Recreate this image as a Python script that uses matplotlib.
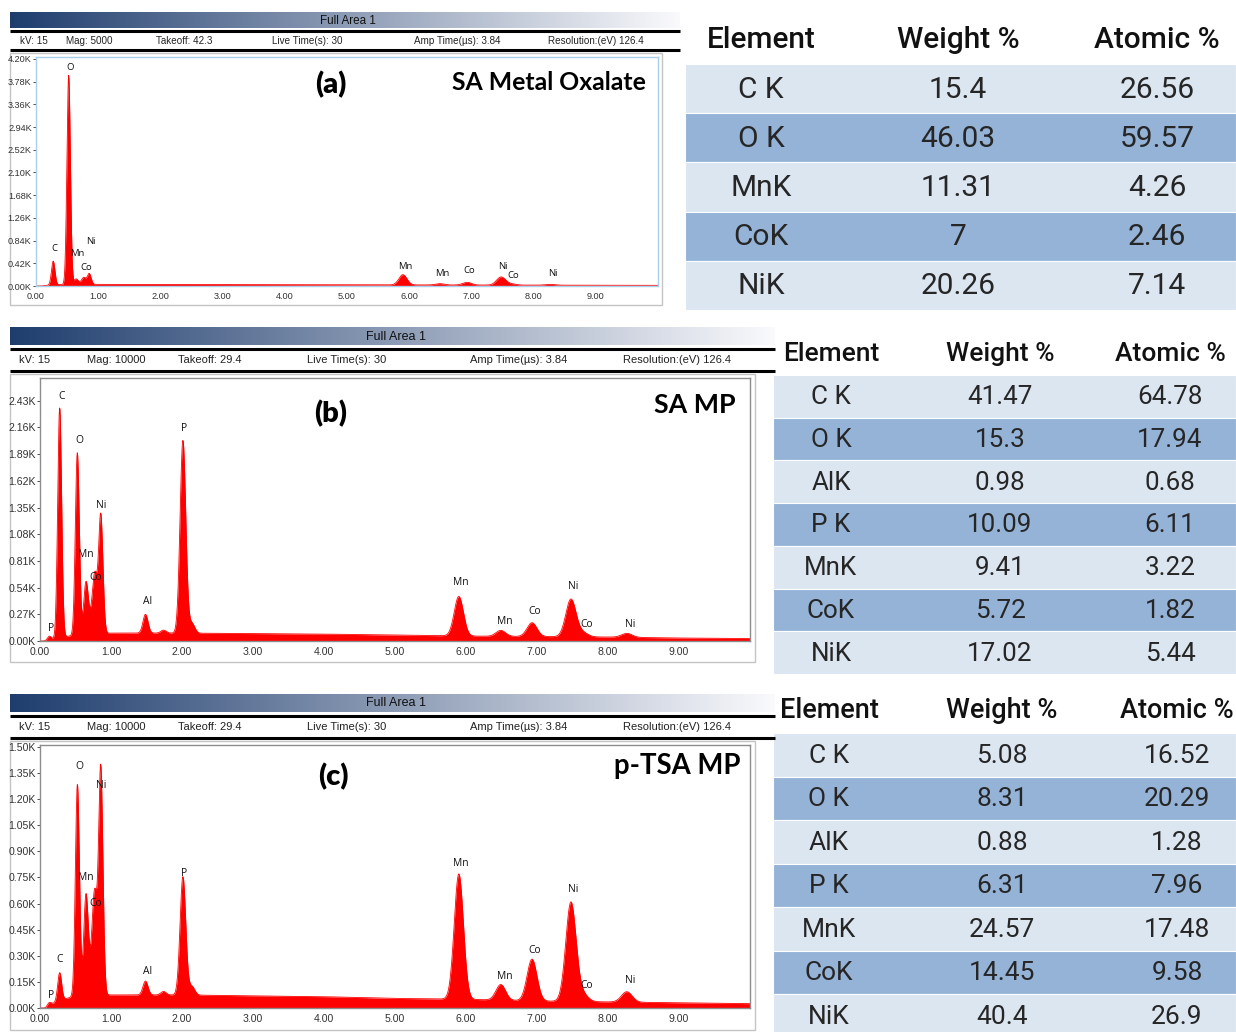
import numpy as np
import matplotlib
matplotlib.use("Agg")
import matplotlib.pyplot as plt
from matplotlib.patches import Rectangle

W, H = 1236, 1032

# ---------------------------------------------------------------- data
# X-ray line energies (keV)
LINE_KEV = {
    "P L": 0.13, "C Ka": 0.277, "O Ka": 0.525, "Mn Ll": 0.556, "Mn La": 0.637,
    "Mn Lb": 0.649, "Co Ll": 0.678, "Ni Ll": 0.743, "Co La": 0.776, "Co Lb": 0.791,
    "Ni La": 0.851, "Ni Lb": 0.869, "Al Ka": 1.486, "Si Ka": 1.74, "P Ka": 2.013,
    "P Kb": 2.139, "Mn Ka": 5.899, "Mn Kb": 6.490, "Co Ka": 6.930, "Ni Ka": 7.478,
    "Co Kb": 7.649, "Ni Kb": 8.265,
}

# net peak heights (kcounts) per spectrum
peaks_a = {"C Ka": 0.44, "O Ka": 3.85, "Mn Ll": 0.03, "Mn La": 0.06, "Mn Lb": 0.03,
           "Co Ll": 0.03, "Ni Ll": 0.06, "Co La": 0.07, "Co Lb": 0.03, "Ni La": 0.15,
           "Ni Lb": 0.06, "Mn Ka": 0.19, "Mn Kb": 0.025, "Co Ka": 0.05, "Ni Ka": 0.15,
           "Co Kb": 0.02, "Ni Kb": 0.015}
peaks_b = {"P L": 0.04, "C Ka": 2.33, "O Ka": 1.80, "Mn Ll": 0.08, "Mn La": 0.30,
           "Mn Lb": 0.15, "Co Ll": 0.20, "Ni Ll": 0.25, "Co La": 0.35, "Co Lb": 0.15,
           "Ni La": 0.90, "Ni Lb": 0.35, "Al Ka": 0.19, "Si Ka": 0.03, "P Ka": 1.95,
           "P Kb": 0.10, "Mn Ka": 0.40, "Mn Kb": 0.06, "Co Ka": 0.14, "Ni Ka": 0.38,
           "Co Kb": 0.04, "Ni Kb": 0.04}
peaks_c = {"P L": 0.02, "C Ka": 0.16, "O Ka": 1.15, "Mn Ll": 0.12, "Mn La": 0.32,
           "Mn Lb": 0.18, "Co Ll": 0.20, "Ni Ll": 0.28, "Co La": 0.32, "Co Lb": 0.14,
           "Ni La": 1.00, "Ni Lb": 0.36, "Al Ka": 0.08, "Si Ka": 0.02, "P Ka": 0.68,
           "P Kb": 0.05, "Mn Ka": 0.72, "Mn Kb": 0.09, "Co Ka": 0.24, "Ni Ka": 0.57,
           "Co Kb": 0.04, "Ni Kb": 0.06}

# continuum level (kcounts) at selected energies
bg_kev = [0.0, 0.08, 0.25, 0.5, 1.0, 2.0, 3.0, 4.0, 5.0, 6.0, 7.0, 8.0, 9.0, 10.0]
bg_a = [0.0, 0.0, 0.02, 0.03, 0.03, 0.03, 0.027, 0.025, 0.022, 0.02, 0.018, 0.016, 0.014, 0.012]
bg_b = [0.0, 0.0, 0.03, 0.06, 0.08, 0.08, 0.075, 0.07, 0.06, 0.05, 0.045, 0.04, 0.03, 0.025]
bg_c = [0.0, 0.0, 0.04, 0.07, 0.075, 0.075, 0.07, 0.065, 0.055, 0.05, 0.04, 0.035, 0.03, 0.025]

# peak annotations: (text, keV, kcounts)
labels_a = [("O", 0.55, 4.05), ("C", 0.30, 0.70), ("Mn", 0.66, 0.61), ("Ni", 0.88, 0.83),
            ("Co", 0.80, 0.35), ("Mn", 5.93, 0.37), ("Mn", 6.53, 0.24), ("Co", 6.96, 0.28),
            ("Ni", 7.51, 0.37), ("Co", 7.68, 0.20), ("Ni", 8.31, 0.24)]
labels_b = [("C", 0.30, 2.47), ("O", 0.55, 2.03), ("P", 2.03, 2.15), ("Ni", 0.86, 1.37),
            ("Mn", 0.65, 0.87), ("Co", 0.79, 0.64), ("Al", 1.52, 0.40), ("P", 0.15, 0.13),
            ("Mn", 5.93, 0.59), ("Mn", 6.54, 0.20), ("Co", 6.97, 0.30), ("Ni", 7.51, 0.55),
            ("Co", 7.70, 0.17), ("Ni", 8.31, 0.17)]
labels_c = [("O", 0.55, 1.39), ("Ni", 0.86, 1.28), ("Mn", 0.65, 0.75), ("Co", 0.79, 0.60),
            ("P", 2.03, 0.77), ("C", 0.28, 0.28), ("Al", 1.51, 0.21), ("P", 0.15, 0.07),
            ("Mn", 5.93, 0.83), ("Ni", 7.51, 0.68), ("Co", 6.97, 0.33), ("Mn", 6.54, 0.18),
            ("Co", 7.70, 0.13), ("Ni", 8.31, 0.16)]

yticks_a = [0.00, 0.42, 0.84, 1.26, 1.68, 2.10, 2.52, 2.94, 3.36, 3.78, 4.20]
yticks_b = [0.00, 0.27, 0.54, 0.81, 1.08, 1.35, 1.62, 1.89, 2.16, 2.43]
yticks_c = [0.00, 0.15, 0.30, 0.45, 0.60, 0.75, 0.90, 1.05, 1.20, 1.35, 1.50]
xticks = [0, 1, 2, 3, 4, 5, 6, 7, 8, 9]

info_a = ["kV: 15", "Mag: 5000", "Takeoff: 42.3", "Live Time(s): 30",
          "Amp Time(\u00b5s): 3.84", "Resolution:(eV) 126.4"]
info_bc = ["kV: 15", "Mag: 10000", "Takeoff: 29.4", "Live Time(s): 30",
           "Amp Time(\u00b5s): 3.84", "Resolution:(eV) 126.4"]
resolution_ev = 126.4

table_cols = ["Element", "Weight %", "Atomic %"]
elem_a = ["C K", "O K", "MnK", "CoK", "NiK"]
wt_a = ["15.4", "46.03", "11.31", "7", "20.26"]
at_a = ["26.56", "59.57", "4.26", "2.46", "7.14"]
elem_b = ["C K", "O K", "AlK", "P K", "MnK", "CoK", "NiK"]
wt_b = ["41.47", "15.3", "0.98", "10.09", "9.41", "5.72", "17.02"]
at_b = ["64.78", "17.94", "0.68", "6.11", "3.22", "1.82", "5.44"]
elem_c = ["C K", "O K", "AlK", "P K", "MnK", "CoK", "NiK"]
wt_c = ["5.08", "8.31", "0.88", "6.31", "24.57", "14.45", "40.4"]
at_c = ["16.52", "20.29", "1.28", "7.96", "17.48", "9.58", "26.9"]

# ---------------------------------------------------------------- helpers
LIGHT_ROW = "#dce6f1"
DARK_ROW = "#95b3d7"
SPEC_RED = "#ff0000"

fig = plt.figure(figsize=(W / 100, H / 100), dpi=100)
fig.patch.set_facecolor("white")

deco = fig.add_axes([0, 0, 1, 1], zorder=0)
deco.set_xlim(0, W)
deco.set_ylim(H, 0)
deco.axis("off")


def px_rect(l, t, r, b):
    return [l / W, 1 - b / H, (r - l) / W, (b - t) / H]


def ftext(x, y, s, **kw):
    fig.text(x / W, 1 - y / H, s, **kw)


def spectrum(peaks, bg):
    e = np.arange(0.0, 10.05, 0.005)
    y = np.interp(e, bg_kev, bg)
    for name, h in peaks.items():
        e0 = LINE_KEV[name]
        # detector FWHM scaled from the Mn Ka resolution (Fano broadening)
        fwhm = 1.2 * np.sqrt(max(resolution_ev ** 2 + 2.53 * (e0 * 1000 - 5894), 2900.0)) / 1000
        s = fwhm / 2.355
        y = y + h * np.exp(-0.5 * ((e - e0) / s) ** 2)
    return e, y


def header(x0, x1, ybar0, ybar1, yl1, yl2, info, info_x, fs_info, fs_title, title_x):
    grad = np.linspace(0, 1, 256)
    c0 = np.array([0.12, 0.24, 0.43])
    c1 = np.array([0.98, 0.98, 0.99])
    img = c0[None, :] * (1 - grad[:, None]) + c1[None, :] * grad[:, None]
    deco.imshow(img[None, :, :], extent=[x0, x1, ybar1, ybar0], aspect="auto", zorder=1)
    deco.text(title_x, (ybar0 + ybar1) / 2 + 0.5, "Full Area 1", ha="center", va="center",
              fontsize=fs_title, family="Liberation Sans", color="#111111", zorder=2)
    deco.plot([x0, x1], [yl1, yl1], color="black", lw=2.2, solid_capstyle="butt", zorder=2)
    deco.plot([x0, x1], [yl2, yl2], color="black", lw=2.2, solid_capstyle="butt", zorder=2)
    ym = (yl1 + yl2) / 2
    for t, x in zip(info, info_x):
        deco.text(x, ym, t, ha="left", va="center", fontsize=fs_info,
                  family="Liberation Sans", color="#222222", zorder=2)


def panel(rect_px, frame_px, xmax, ymax, peaks, bg, yticks, labels, tag, tag_xy, name,
          name_xy, name_fs, spine_color, frame_color, tick_fs, lab_fs):
    fx0, fy0, fx1, fy1 = frame_px
    deco.add_patch(Rectangle((fx0, fy0), fx1 - fx0, fy1 - fy0, fill=False,
                             ec=frame_color, lw=1.0, zorder=1))
    ax = fig.add_axes(px_rect(*rect_px), zorder=2)
    e, y = spectrum(peaks, bg)
    ax.fill_between(e, 0, y, color=SPEC_RED, lw=0)
    ax.plot(e, y, color=SPEC_RED, lw=0.6)
    ax.set_xlim(0, xmax)
    ax.set_ylim(0, ymax)
    ax.set_xticks(xticks)
    ax.set_xticklabels([f"{v:.2f}" for v in xticks])
    ax.set_yticks(yticks)
    ax.set_yticklabels([f"{v:.2f}K" for v in yticks])
    ax.tick_params(axis="both", labelsize=tick_fs, colors="#333333", length=2, width=0.6,
                   pad=1.0)
    ax.tick_params(axis="x", length=0, pad=4)
    for lab in ax.get_xticklabels() + ax.get_yticklabels():
        lab.set_family("Liberation Sans")
    for s in ax.spines.values():
        s.set_color(spine_color)
        s.set_linewidth(1.0)
    for t, xk, yk in labels:
        ax.text(xk, yk, t, ha="center", va="center", fontsize=lab_fs, family="Open Sans",
                color="#111111")
    ftext(tag_xy[0], tag_xy[1], tag, ha="center", va="center", fontsize=21,
          family="Lato", fontweight="heavy", color="black", zorder=5)
    ftext(name_xy[0], name_xy[1], name, ha="right", va="center", fontsize=name_fs,
          family="Lato", fontweight="bold", color="black", zorder=5)
    return ax


def table(x0, x1, y_head, y_top, row_h, col_x, elems, wts, ats, fs_head, fs_cell):
    for cx, c in zip(col_x, table_cols):
        deco.text(cx, y_head, c, ha="center", va="center", fontsize=fs_head,
                  family="Roboto", fontweight="medium", color="#111111", zorder=3)
    for i, row in enumerate(zip(elems, wts, ats)):
        yt = y_top + i * row_h
        deco.add_patch(Rectangle((x0, yt), x1 - x0, row_h,
                                 fc=LIGHT_ROW if i % 2 == 0 else DARK_ROW, ec="white",
                                 lw=0.8, zorder=1))
        for cx, v in zip(col_x, row):
            deco.text(cx, yt + row_h / 2 + 1, v, ha="center", va="center", fontsize=fs_cell,
                      family="Roboto", color="#262626", zorder=3)


# ---------------------------------------------------------------- panel (a)
header(10, 680, 12, 28, 31, 50, info_a, [20, 66, 156, 272, 414, 548], 7.1, 8.4, 348)
panel((36, 57, 658, 286), (10, 53, 662, 305), 10.0, 4.237, peaks_a, bg_a, yticks_a,
      labels_a, "(a)", (331, 85), "SA Metal Oxalate", (646, 83), 17.8, "#a8d0ea", "#c4c4c4",
      6.6, 6.8)
table(685, 1236, 40, 64, 49.2, [761, 958, 1157], elem_a, wt_a, at_a, 21.5, 21.5)

# ---------------------------------------------------------------- panel (b)
header(10, 775, 327, 345, 349, 371, info_bc, [19, 87, 178, 307, 470, 623], 8.0, 9.0, 396)
panel((40, 378, 750, 641), (10, 374, 755, 662), 10.0, 2.66, peaks_b, bg_b, yticks_b,
      labels_b, "(b)", (331, 414), "SA MP", (736, 405), 19.3, "#8c8c8c", "#c4c4c4", 7.6, 7.4)
table(773, 1236, 354, 375, 42.7, [831, 1000, 1170], elem_b, wt_b, at_b, 19, 18.7)

# ---------------------------------------------------------------- panel (c)
header(10, 775, 694, 712, 716, 738, info_bc, [19, 87, 178, 307, 470, 623], 8.0, 9.0, 396)
panel((40, 745, 750, 1008), (10, 741, 755, 1030), 10.0, 1.511, peaks_c, bg_c, yticks_c,
      labels_c, "(c)", (333, 777), "p-TSA MP", (740, 766), 19.8, "#8c8c8c", "#c4c4c4",
      7.6, 7.4)
table(773, 1236, 711, 733, 43.5, [829, 1002, 1177], elem_c, wt_c, at_c, 19.5, 19)

fig.savefig("out.png", dpi=100, facecolor="white")
